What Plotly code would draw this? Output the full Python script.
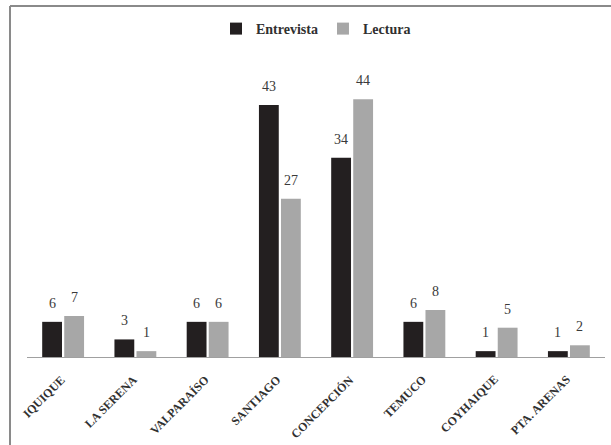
import plotly.graph_objects as go

ciudades = ["IQUIQUE", "LA SERENA", "VALPARAÍSO", "SANTIAGO", "CONCEPCIÓN",
            "TEMUCO", "COYHAIQUE", "PTA. ARENAS"]
entrevista = [6, 3, 6, 43, 34, 6, 1, 1]
lectura = [7, 1, 6, 27, 44, 8, 5, 2]

W, H = 611, 445
ML, MR, MT, MB = 27, 6, 64, 88
pw, ph = W - ML - MR, H - MT - MB

serif = "Liberation Serif"
text_col = "#3a3a3a"
label_col = "#303030"

fig = go.Figure()
fig.add_trace(go.Bar(
    x=ciudades, y=entrevista, name="Entrevista",
    marker=dict(color="#231f20", line=dict(width=0)),
))
fig.add_trace(go.Bar(
    x=ciudades, y=lectura, name="Lectura",
    marker=dict(color="#a7a7a7", line=dict(width=0)),
))

# value labels above each bar (black bar left of centre, grey bar right)
annotations = []
for serie, dx in ((entrevista, -11), (lectura, 11)):
    for c, v in zip(ciudades, serie):
        annotations.append(dict(
            x=c, y=v, xref="x", yref="y", text=str(v), showarrow=False,
            xanchor="center", yanchor="bottom", xshift=dx, yshift=9,
            font=dict(family=serif, size=14, color=text_col),
        ))

# slanted category labels under the axis
for c in ciudades:
    annotations.append(dict(
        x=c, y=0, xref="x", yref="paper", text=c, showarrow=False,
        textangle=-45, xanchor="right", yanchor="top",
        xshift=7, yshift=-13,
        font=dict(family=serif, size=12, color=label_col, weight="bold"),
    ))


def px_to_paper_x(px):
    return (px - ML) / pw


def px_to_paper_y(py):
    return (H - MB - py) / ph


# outer box: top and left edges only
fig.add_shape(type="line", xref="paper", yref="paper",
              x0=px_to_paper_x(10), x1=px_to_paper_x(W),
              y0=px_to_paper_y(6), y1=px_to_paper_y(6),
              line=dict(color="#8a8a8a", width=2))
fig.add_shape(type="line", xref="paper", yref="paper",
              x0=px_to_paper_x(10), x1=px_to_paper_x(10),
              y0=px_to_paper_y(6), y1=px_to_paper_y(H),
              line=dict(color="#8a8a8a", width=2))

fig.update_layout(
    width=W, height=H,
    margin=dict(l=ML, r=MR, t=MT, b=MB, autoexpand=False),
    paper_bgcolor="white", plot_bgcolor="white",
    barmode="group", bargap=0.39, bargroupgap=0.1,
    showlegend=True,
    legend=dict(orientation="h", xref="container", yref="container",
                x=316 / W, xanchor="center",
                y=1 - 29 / H, yanchor="middle",
                font=dict(family=serif, size=14, color=label_col, weight="bold"),
                itemwidth=30, traceorder="normal"),
    font=dict(family=serif, color=text_col),
    annotations=annotations,
)
fig.update_xaxes(
    type="category", range=[-0.5, len(ciudades) - 0.5], autorange=False,
    showline=True, linecolor="#a0a0a0", linewidth=1,
    ticks="", showticklabels=False, showgrid=False,
)
fig.update_yaxes(
    range=[0, 50], autorange=False, visible=False,
    showgrid=False, zeroline=False,
)

fig.write_html(
    "out.html",
    config=dict(staticPlot=True, displayModeBar=False),
    post_script="document.body.style.margin='0';"
                "document.documentElement.style.overflow='hidden';",
)
